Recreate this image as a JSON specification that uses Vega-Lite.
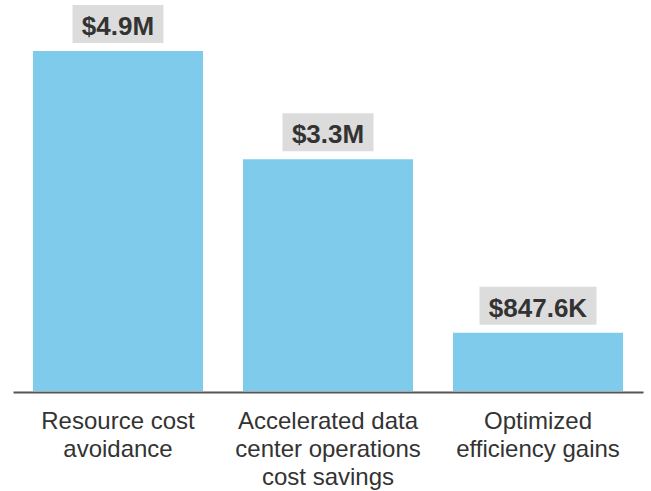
{
  "$schema": "https://vega.github.io/schema/vega-lite/v6.json",
  "width": 630,
  "height": 340,
  "autosize": "none",
  "padding": {"left": 13, "top": 51, "right": 8, "bottom": 100},
  "background": "white",
  "config": {"view": {"stroke": null}, "font": "Liberation Sans"},
  "data": {
    "values": [
      {"category": "Resource cost|avoidance", "value": 4.9, "label": "$4.9M"},
      {"category": "Accelerated data|center operations|cost savings", "value": 3.34, "label": "$3.3M"},
      {"category": "Optimized|efficiency gains", "value": 0.84, "label": "$847.6K"}
    ]
  },
  "transform": [{"calculate": "length(datum.label) * 13 + 26", "as": "boxw"}],
  "encoding": {
    "x": {
      "field": "category",
      "type": "nominal",
      "sort": null,
      "scale": {"paddingInner": 0.1905, "paddingOuter": 0.0952},
      "axis": {
        "title": null,
        "labelAngle": 0,
        "labelExpr": "split(datum.value, '|')",
        "labelFont": "Liberation Sans",
        "labelFontSize": 24,
        "labelColor": "#333333",
        "labelLineHeight": 28,
        "labelBaseline": "top",
        "labelPadding": 17,
        "ticks": false,
        "domainColor": "#555555",
        "domainWidth": 2,
        "offset": 1,
        "labelLimit": 0
      }
    }
  },
  "layer": [
    {
      "mark": {"type": "bar", "color": "#7FCBEC"},
      "encoding": {
        "y": {"field": "value", "type": "quantitative", "scale": {"domain": [0, 4.9], "nice": false}, "axis": null}
      }
    },
    {
      "mark": {"type": "bar", "color": "#DCDCDC", "yOffset": -8, "y2Offset": -46},
      "encoding": {
        "y": {"field": "value", "type": "quantitative"},
        "y2": {"field": "value"},
        "size": {"field": "boxw", "type": "quantitative", "scale": null, "legend": null}
      }
    },
    {
      "mark": {"type": "text", "font": "Liberation Sans", "fontSize": 26, "fontWeight": "bold", "color": "#333333", "baseline": "alphabetic", "dy": -16},
      "encoding": {
        "y": {"field": "value", "type": "quantitative"},
        "text": {"field": "label"}
      }
    }
  ]
}
